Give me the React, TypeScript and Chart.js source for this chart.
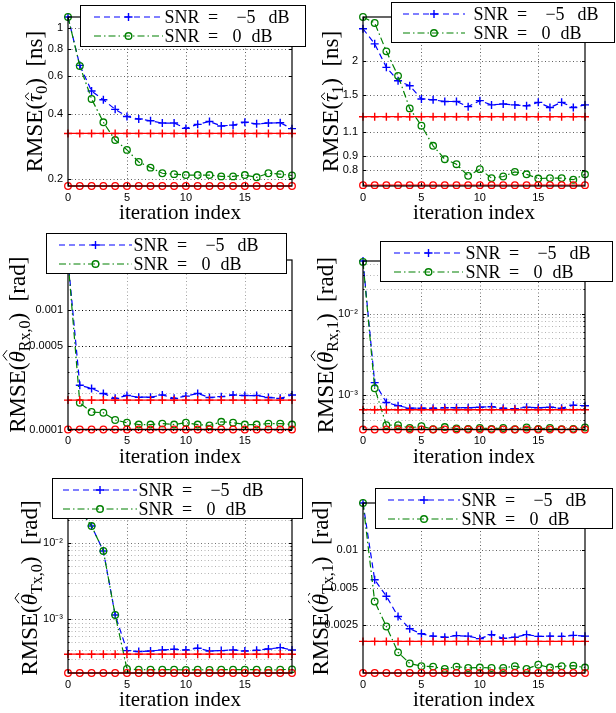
import React, { useEffect, useRef } from "react";
import { Chart, registerables } from "chart.js";

Chart.register(...registerables);

const ITERATIONS = [0, 1, 2, 3, 4, 5, 6, 7, 8, 9, 10, 11, 12, 13, 14, 15, 16, 17, 18, 19];
const X_TICKS = [0, 5, 10, 15];
const X_TITLE = "iteration index";
const LEGEND_LABELS = ["SNR = −5 dB", "SNR = 0 dB"];

// Panel 1: tau_0
const TAU0_M5 = [1.12, 0.67, 0.51, 0.465, 0.42, 0.389, 0.379, 0.372, 0.363, 0.363, 0.343, 0.358, 0.369, 0.352, 0.355, 0.366, 0.36, 0.363, 0.364, 0.342];
const TAU0_0 = [1.12, 0.666, 0.469, 0.366, 0.303, 0.273, 0.24, 0.226, 0.213, 0.211, 0.209, 0.209, 0.209, 0.206, 0.206, 0.209, 0.204, 0.213, 0.211, 0.208];
const TAU0_CRB_M5 = [0.325, 0.325, 0.325, 0.325, 0.325, 0.325, 0.325, 0.325, 0.325, 0.325, 0.325, 0.325, 0.325, 0.325, 0.325, 0.325, 0.325, 0.325, 0.325, 0.325];
const TAU0_CRB_0 = [0.186, 0.186, 0.186, 0.186, 0.186, 0.186, 0.186, 0.186, 0.186, 0.186, 0.186, 0.186, 0.186, 0.186, 0.186, 0.186, 0.186, 0.186, 0.186, 0.186];
const TAU0_TICKS = [0.2, 0.4, 0.6, 0.8, 1];
const TAU0_TICK_LABELS = ["0.2", "0.4", "0.6", "0.8", "1"];

// Panel 2: tau_1
const TAU1_M5 = [2.61, 2.3, 1.89, 1.69, 1.62, 1.45, 1.44, 1.42, 1.42, 1.36, 1.43, 1.38, 1.39, 1.38, 1.37, 1.41, 1.35, 1.41, 1.35, 1.38];
const TAU1_0 = [2.88, 2.74, 2.16, 1.76, 1.34, 1.16, 0.98, 0.876, 0.84, 0.762, 0.806, 0.748, 0.758, 0.788, 0.772, 0.745, 0.748, 0.748, 0.738, 0.772];
const TAU1_CRB_M5 = [1.25, 1.25, 1.25, 1.25, 1.25, 1.25, 1.25, 1.25, 1.25, 1.25, 1.25, 1.25, 1.25, 1.25, 1.25, 1.25, 1.25, 1.25, 1.25, 1.25];
const TAU1_CRB_0 = [0.705, 0.705, 0.705, 0.705, 0.705, 0.705, 0.705, 0.705, 0.705, 0.705, 0.705, 0.705, 0.705, 0.705, 0.705, 0.705, 0.705, 0.705, 0.705, 0.705];
const TAU1_TICKS = [0.8, 0.9, 1.1, 1.5, 2];
const TAU1_TICK_LABELS = ["0.8", "0.9", "1.1", "1.5", "2"];

// Panel 3: theta_Rx,0
const RX0_M5 = [2.6e-3, 2.34e-4, 2.2e-4, 2.0e-4, 1.82e-4, 1.92e-4, 1.86e-4, 1.86e-4, 1.94e-4, 1.82e-4, 1.9e-4, 2.0e-4, 1.85e-4, 1.88e-4, 1.94e-4, 1.92e-4, 1.92e-4, 1.85e-4, 1.82e-4, 1.94e-4];
const RX0_0 = [2.6e-3, 1.67e-4, 1.4e-4, 1.38e-4, 1.2e-4, 1.14e-4, 1.1e-4, 1.1e-4, 1.12e-4, 1.1e-4, 1.14e-4, 1.1e-4, 1.08e-4, 1.16e-4, 1.14e-4, 1.1e-4, 1.1e-4, 1.12e-4, 1.12e-4, 1.1e-4];
const RX0_CRB_M5 = [1.76e-4, 1.76e-4, 1.76e-4, 1.76e-4, 1.76e-4, 1.76e-4, 1.76e-4, 1.76e-4, 1.76e-4, 1.76e-4, 1.76e-4, 1.76e-4, 1.76e-4, 1.76e-4, 1.76e-4, 1.76e-4, 1.76e-4, 1.76e-4, 1.76e-4, 1.76e-4];
const RX0_CRB_0 = [1.0e-4, 1.0e-4, 1.0e-4, 1.0e-4, 1.0e-4, 1.0e-4, 1.0e-4, 1.0e-4, 1.0e-4, 1.0e-4, 1.0e-4, 1.0e-4, 1.0e-4, 1.0e-4, 1.0e-4, 1.0e-4, 1.0e-4, 1.0e-4, 1.0e-4, 1.0e-4];
const RX0_TICKS = [0.0001, 0.0005, 0.001];
const RX0_TICK_LABELS = ["0.0001", "0.0005", "0.001"];
const RX0_MINOR = [0.0002, 0.0003, 0.0004];

// Panel 4: theta_Rx,1
const RX1_M5 = [0.0441, 1.42e-3, 8.1e-4, 7.4e-4, 6.9e-4, 6.9e-4, 6.9e-4, 7.0e-4, 7.0e-4, 7.0e-4, 7.1e-4, 7.2e-4, 6.9e-4, 6.8e-4, 7.1e-4, 7.0e-4, 7.1e-4, 6.9e-4, 7.5e-4, 7.4e-4];
const RX1_0 = [0.043, 1.21e-3, 4.27e-4, 4.27e-4, 3.95e-4, 4.15e-4, 3.8e-4, 4.05e-4, 3.9e-4, 3.85e-4, 3.95e-4, 3.85e-4, 3.95e-4, 3.8e-4, 4.0e-4, 3.85e-4, 3.95e-4, 3.8e-4, 3.85e-4, 4.0e-4];
const RX1_CRB_M5 = [6.6e-4, 6.6e-4, 6.6e-4, 6.6e-4, 6.6e-4, 6.6e-4, 6.6e-4, 6.6e-4, 6.6e-4, 6.6e-4, 6.6e-4, 6.6e-4, 6.6e-4, 6.6e-4, 6.6e-4, 6.6e-4, 6.6e-4, 6.6e-4, 6.6e-4, 6.6e-4];
const RX1_CRB_0 = [3.78e-4, 3.78e-4, 3.78e-4, 3.78e-4, 3.78e-4, 3.78e-4, 3.78e-4, 3.78e-4, 3.78e-4, 3.78e-4, 3.78e-4, 3.78e-4, 3.78e-4, 3.78e-4, 3.78e-4, 3.78e-4, 3.78e-4, 3.78e-4, 3.78e-4, 3.78e-4];
const LOG_TICKS = [0.001, 0.01];
const LOG_TICK_LABELS = ["10⁻³", "10⁻²"];
const RX1_MINOR = [4e-4, 5e-4, 6e-4, 7e-4, 8e-4, 9e-4, 2e-3, 3e-3, 4e-3, 5e-3, 6e-3, 7e-3, 8e-3, 9e-3, 2e-2, 3e-2, 4e-2];

// Panel 5: theta_Tx,0
const TX0_M5 = [0.033, 0.027, 0.0165, 0.0078, 1.14e-3, 3.9e-4, 3.79e-4, 3.86e-4, 3.98e-4, 4.06e-4, 3.98e-4, 4.19e-4, 3.86e-4, 3.9e-4, 3.98e-4, 3.86e-4, 3.94e-4, 4.1e-4, 4.27e-4, 3.98e-4];
const TX0_0 = [0.033, 0.027, 0.0165, 0.0078, 1.14e-3, 2.25e-4, 2.2e-4, 2.2e-4, 2.2e-4, 2.2e-4, 2.18e-4, 2.2e-4, 2.18e-4, 2.2e-4, 2.2e-4, 2.2e-4, 2.2e-4, 2.18e-4, 2.2e-4, 2.22e-4];
const TX0_CRB_M5 = [3.5e-4, 3.5e-4, 3.5e-4, 3.5e-4, 3.5e-4, 3.5e-4, 3.5e-4, 3.5e-4, 3.5e-4, 3.5e-4, 3.5e-4, 3.5e-4, 3.5e-4, 3.5e-4, 3.5e-4, 3.5e-4, 3.5e-4, 3.5e-4, 3.5e-4, 3.5e-4];
const TX0_CRB_0 = [1.99e-4, 1.99e-4, 1.99e-4, 1.99e-4, 1.99e-4, 1.99e-4, 1.99e-4, 1.99e-4, 1.99e-4, 1.99e-4, 1.99e-4, 1.99e-4, 1.99e-4, 1.99e-4, 1.99e-4, 1.99e-4, 1.99e-4, 1.99e-4, 1.99e-4, 1.99e-4];
const TX0_MINOR = [3e-4, 4e-4, 5e-4, 6e-4, 7e-4, 8e-4, 9e-4, 2e-3, 3e-3, 4e-3, 5e-3, 6e-3, 7e-3, 8e-3, 9e-3, 2e-2, 3e-2];

// Panel 6: theta_Tx,1
const TX1_M5 = [0.0241, 5.8e-3, 4.28e-3, 2.94e-3, 2.34e-3, 2.13e-3, 2.04e-3, 2.0e-3, 2.06e-3, 2.04e-3, 1.95e-3, 2.1e-3, 1.96e-3, 2.0e-3, 2.1e-3, 2.03e-3, 2.04e-3, 2.03e-3, 2.07e-3, 2.04e-3];
const TX1_0 = [0.0241, 3.88e-3, 2.44e-3, 1.51e-3, 1.23e-3, 1.17e-3, 1.16e-3, 1.11e-3, 1.16e-3, 1.13e-3, 1.14e-3, 1.13e-3, 1.13e-3, 1.17e-3, 1.11e-3, 1.2e-3, 1.14e-3, 1.17e-3, 1.18e-3, 1.14e-3];
const TX1_CRB_M5 = [1.85e-3, 1.85e-3, 1.85e-3, 1.85e-3, 1.85e-3, 1.85e-3, 1.85e-3, 1.85e-3, 1.85e-3, 1.85e-3, 1.85e-3, 1.85e-3, 1.85e-3, 1.85e-3, 1.85e-3, 1.85e-3, 1.85e-3, 1.85e-3, 1.85e-3, 1.85e-3];
const TX1_CRB_0 = [1.03e-3, 1.03e-3, 1.03e-3, 1.03e-3, 1.03e-3, 1.03e-3, 1.03e-3, 1.03e-3, 1.03e-3, 1.03e-3, 1.03e-3, 1.03e-3, 1.03e-3, 1.03e-3, 1.03e-3, 1.03e-3, 1.03e-3, 1.03e-3, 1.03e-3, 1.03e-3];
const TX1_TICKS = [0.0025, 0.005, 0.01];
const TX1_TICK_LABELS = ["0.0025", "0.005", "0.01"];

const SERIF = '"Liberation Serif", "Times New Roman", serif';
const SANS = '"Liberation Sans", Arial, sans-serif';
const BLUE = "#0000ff";
const GREEN = "#008000";
const RED = "#ff0000";
const DASH_BLUE = [6, 4];
const DASH_GREEN = [7, 3, 1.5, 3];

type Rect = { x: number; y: number; w: number; h: number };
type Panel = {
  m5: number[]; s0: number[]; crbM5: number[]; crb0: number[];
  yTicks: number[]; yLabels: string[]; yMinor: number[];
  majorColor: string;
  canvas: Rect;
  plot: { L: number; R: number; T: number; B: number };
  legend: { x: number; y: number; w: number; h: number; lx1: number; lx2: number; tx: number };
  title: { sym: string; sub: string; unit: string; bx: number };
};

const PANELS: Panel[] = [
  {
    m5: TAU0_M5, s0: TAU0_0, crbM5: TAU0_CRB_M5, crb0: TAU0_CRB_0,
    yTicks: TAU0_TICKS, yLabels: TAU0_TICK_LABELS, yMinor: [], majorColor: "#606060",
    canvas: { x: 0, y: 0, w: 308, h: 226 }, plot: { L: 68, R: 292, T: 17, B: 186 },
    legend: { x: 80, y: 5, w: 226, h: 42, lx1: 94, lx2: 163, tx: 166 },
    title: { sym: "τ", sub: "0", unit: "ns", bx: 42 },
  },
  {
    m5: TAU1_M5, s0: TAU1_0, crbM5: TAU1_CRB_M5, crb0: TAU1_CRB_0,
    yTicks: TAU1_TICKS, yLabels: TAU1_TICK_LABELS, yMinor: [], majorColor: "#606060",
    canvas: { x: 308, y: 0, w: 308, h: 226 }, plot: { L: 363, R: 585, T: 17, B: 186 },
    legend: { x: 391, y: 2, w: 224, h: 41, lx1: 403, lx2: 465, tx: 475 },
    title: { sym: "τ", sub: "1", unit: "ns", bx: 338 },
  },
  {
    m5: RX0_M5, s0: RX0_0, crbM5: RX0_CRB_M5, crb0: RX0_CRB_0,
    yTicks: RX0_TICKS, yLabels: RX0_TICK_LABELS, yMinor: RX0_MINOR, majorColor: "#000000",
    canvas: { x: 0, y: 226, w: 308, h: 242 }, plot: { L: 68, R: 292, T: 260, B: 429.5 },
    legend: { x: 46, y: 233, w: 241, h: 41, lx1: 59, lx2: 132, tx: 135 },
    title: { sym: "θ", sub: "Rx,0", unit: "rad", bx: 25 },
  },
  {
    m5: RX1_M5, s0: RX1_0, crbM5: RX1_CRB_M5, crb0: RX1_CRB_0,
    yTicks: LOG_TICKS, yLabels: LOG_TICK_LABELS, yMinor: RX1_MINOR, majorColor: "#707070",
    canvas: { x: 308, y: 226, w: 308, h: 242 }, plot: { L: 363, R: 585, T: 261, B: 429.5 },
    legend: { x: 380, y: 241, w: 233, h: 41, lx1: 394, lx2: 463, tx: 467 },
    title: { sym: "θ", sub: "Rx,1", unit: "rad", bx: 333 },
  },
  {
    m5: TX0_M5, s0: TX0_0, crbM5: TX0_CRB_M5, crb0: TX0_CRB_0,
    yTicks: LOG_TICKS, yLabels: LOG_TICK_LABELS, yMinor: TX0_MINOR, majorColor: "#707070",
    canvas: { x: 0, y: 468, w: 308, h: 245 }, plot: { L: 68, R: 292, T: 503, B: 673 },
    legend: { x: 52, y: 478, w: 251, h: 41, lx1: 63, lx2: 137, tx: 140 },
    title: { sym: "θ", sub: "Tx,0", unit: "rad", bx: 37 },
  },
  {
    m5: TX1_M5, s0: TX1_0, crbM5: TX1_CRB_M5, crb0: TX1_CRB_0,
    yTicks: TX1_TICKS, yLabels: TX1_TICK_LABELS, yMinor: [], majorColor: "#606060",
    canvas: { x: 308, y: 468, w: 308, h: 245 }, plot: { L: 363, R: 585, T: 503, B: 673 },
    legend: { x: 375, y: 488, w: 238, h: 41, lx1: 388, lx2: 460, tx: 463 },
    title: { sym: "θ", sub: "Tx,1", unit: "rad", bx: 328 },
  },
];

// horizontal centres of the legend words, relative to the text start
const LEGEND_CENTRES = [
  [16, 47, 80, 113],
  [16, 47, 71, 96],
];

function hline(ctx: CanvasRenderingContext2D, x1: number, x2: number, y: number) {
  ctx.beginPath();
  ctx.moveTo(x1, y);
  ctx.lineTo(x2, y);
  ctx.stroke();
}
function vline(ctx: CanvasRenderingContext2D, x: number, y1: number, y2: number) {
  ctx.beginPath();
  ctx.moveTo(x, y1);
  ctx.lineTo(x, y2);
  ctx.stroke();
}

function drawMarker(ctx: CanvasRenderingContext2D, kind: string, x: number, y: number, color: string) {
  ctx.save();
  ctx.setLineDash([]);
  ctx.strokeStyle = color;
  ctx.lineWidth = 1.4;
  ctx.beginPath();
  if (kind === "plus") {
    ctx.moveTo(x - 4, y);
    ctx.lineTo(x + 4, y);
    ctx.moveTo(x, y - 4);
    ctx.lineTo(x, y + 4);
  } else {
    ctx.arc(x, y, 3.3, 0, Math.PI * 2);
  }
  ctx.stroke();
  ctx.restore();
}

function drawLegend(ctx: CanvasRenderingContext2D, p: Panel) {
  const ox = p.canvas.x;
  const oy = p.canvas.y;
  const lg = p.legend;
  const x = lg.x - ox;
  const y = lg.y - oy;
  ctx.save();
  ctx.setLineDash([]);
  ctx.fillStyle = "#ffffff";
  ctx.fillRect(x, y, lg.w, lg.h);
  ctx.strokeStyle = "#000";
  ctx.lineWidth = 1;
  ctx.strokeRect(x + 0.5, y + 0.5, lg.w - 1, lg.h - 1);
  const rows = [
    { ry: y + 12, color: BLUE, dash: DASH_BLUE, marker: "plus" },
    { ry: y + 31, color: GREEN, dash: DASH_GREEN, marker: "circle" },
  ];
  rows.forEach((r, i) => {
    const x1 = lg.lx1 - ox;
    const x2 = lg.lx2 - ox;
    ctx.strokeStyle = r.color;
    ctx.lineWidth = 1.2;
    ctx.setLineDash(r.dash);
    hline(ctx, x1, x2, r.ry);
    drawMarker(ctx, r.marker, (x1 + x2) / 2, r.ry, r.color);
    ctx.fillStyle = "#000";
    ctx.font = `18px ${SERIF}`;
    ctx.textBaseline = "alphabetic";
    ctx.textAlign = "center";
    const tokens = LEGEND_LABELS[i].split(" ");
    tokens.forEach((tok, k) => {
      ctx.fillText(tok, lg.tx - ox + LEGEND_CENTRES[i][k], r.ry + 6);
    });
  });
  ctx.restore();
}

function drawYTitle(ctx: CanvasRenderingContext2D, p: Panel, cy: number) {
  const t = p.title;
  const bx = t.bx - p.canvas.x;
  const big = `23px ${SERIF}`;
  const ital = `italic 23px ${SERIF}`;
  const small = `16px ${SERIF}`;
  const parts = [
    { s: "RMSE(", f: big, dy: 0, hat: false },
    { s: t.sym, f: ital, dy: 0, hat: true },
    { s: t.sub, f: small, dy: 5, hat: false },
    { s: ")", f: big, dy: 0, hat: false },
    { s: "\u2002[" + t.unit + "]", f: big, dy: 0, hat: false },
  ];
  ctx.save();
  ctx.translate(bx, cy);
  ctx.rotate(-Math.PI / 2);
  ctx.textBaseline = "alphabetic";
  ctx.textAlign = "left";
  ctx.fillStyle = "#000";
  const widths = parts.map((pt) => {
    ctx.font = pt.f;
    return ctx.measureText(pt.s).width;
  });
  const total = widths.reduce((a, b) => a + b, 0);
  let x = -total / 2;
  parts.forEach((pt, i) => {
    ctx.font = pt.f;
    ctx.fillText(pt.s, x, pt.dy);
    if (pt.hat) {
      const h = t.sym === "τ" ? 13 : 18;
      ctx.strokeStyle = "#000";
      ctx.lineWidth = 1;
      ctx.beginPath();
      ctx.moveTo(x + 2, -h);
      ctx.lineTo(x + widths[i] / 2 + 1.5, -h - 4);
      ctx.lineTo(x + widths[i] + 1, -h);
      ctx.stroke();
    }
    x += widths[i];
  });
  ctx.restore();
}

function PanelChart({ p }: { p: Panel }) {
  const ref = useRef<HTMLCanvasElement>(null);
  useEffect(() => {
    const canvas = ref.current;
    if (!canvas) return;
    const c = p.canvas;
    const pl = p.plot;
    const all = [...p.m5, ...p.s0, ...p.crbM5, ...p.crb0];
    const yMin = Math.min(...all);
    const yMax = Math.max(...all);
    const toXY = (vals: number[]) => ITERATIONS.map((it, i) => ({ x: it, y: vals[i] }));

    const decor = {
      id: "decor",
      beforeDatasetsDraw(chart: any) {
        const { ctx, chartArea: a, scales } = chart;
        const xs = scales.x;
        const ys = scales.y;
        ctx.save();
        ctx.lineWidth = 1;
        ctx.setLineDash([1, 2.5]);
        ctx.strokeStyle = "#b4b4b4";
        p.yMinor.forEach((v) => {
          const py = Math.round(ys.getPixelForValue(v)) + 0.5;
          hline(ctx, a.left, a.right, py);
        });
        ctx.strokeStyle = p.majorColor === "#000000" ? "#a0a0a0" : p.majorColor;
        X_TICKS.forEach((v) => {
          if (v === 0) return;
          const px = Math.round(xs.getPixelForValue(v)) + 0.5;
          vline(ctx, px, a.top, a.bottom);
        });
        ctx.strokeStyle = p.majorColor;
        p.yTicks.forEach((v) => {
          const py = Math.round(ys.getPixelForValue(v)) + 0.5;
          hline(ctx, a.left, a.right, py);
        });
        ctx.restore();
      },
      afterDatasetsDraw(chart: any) {
        const { ctx, chartArea: a, scales } = chart;
        const xs = scales.x;
        const ys = scales.y;
        ctx.save();
        ctx.setLineDash([]);
        ctx.strokeStyle = "#000";
        ctx.lineWidth = 1.2;
        ctx.strokeRect(a.left, a.top, a.right - a.left, a.bottom - a.top);
        ctx.lineWidth = 1;
        X_TICKS.forEach((v) => {
          const px = Math.round(xs.getPixelForValue(v)) + 0.5;
          vline(ctx, px, a.bottom, a.bottom - 3);
          vline(ctx, px, a.top, a.top + 3);
        });
        p.yTicks.forEach((v) => {
          const py = Math.round(ys.getPixelForValue(v)) + 0.5;
          hline(ctx, a.left, a.left + 3, py);
          hline(ctx, a.right, a.right - 3, py);
        });
        p.yMinor.forEach((v) => {
          const py = Math.round(ys.getPixelForValue(v)) + 0.5;
          hline(ctx, a.left, a.left + 1.5, py);
          hline(ctx, a.right, a.right - 1.5, py);
        });
        ctx.fillStyle = "#000";
        ctx.font = `21px ${SERIF}`;
        ctx.textAlign = "center";
        ctx.textBaseline = "alphabetic";
        ctx.fillText(X_TITLE, (a.left + a.right) / 2, a.bottom + 33);
        ctx.restore();
        drawYTitle(ctx, p, (a.top + a.bottom) / 2);
        drawLegend(ctx, p);
      },
    };

    const chart = new Chart(canvas, {
      type: "line",
      data: {
        datasets: [
          {
            label: LEGEND_LABELS[0], data: toXY(p.m5), borderColor: BLUE, borderWidth: 1.2, borderDash: DASH_BLUE,
            pointStyle: "cross", pointRadius: 4, pointBorderColor: BLUE, pointBorderWidth: 1.4,
            backgroundColor: "rgba(0,0,0,0)", fill: false, clip: false, order: 3, tension: 0,
          },
          {
            label: LEGEND_LABELS[1], data: toXY(p.s0), borderColor: GREEN, borderWidth: 1.2, borderDash: DASH_GREEN,
            pointStyle: "circle", pointRadius: 3.3, pointBorderColor: GREEN, pointBackgroundColor: "rgba(0,0,0,0)",
            pointBorderWidth: 1.3, backgroundColor: "rgba(0,0,0,0)", fill: false, clip: false, order: 2, tension: 0,
          },
          {
            label: "CRB, SNR = −5 dB", data: toXY(p.crbM5), borderColor: RED, borderWidth: 1.3,
            pointStyle: "cross", pointRadius: 4, pointBorderColor: RED, pointBorderWidth: 1.4,
            backgroundColor: "rgba(0,0,0,0)", fill: false, clip: false, order: 1, tension: 0,
          },
          {
            label: "CRB, SNR = 0 dB", data: toXY(p.crb0), borderColor: RED, borderWidth: 1.3,
            pointStyle: "circle", pointRadius: 3.3, pointBorderColor: RED, pointBackgroundColor: "rgba(0,0,0,0)",
            pointBorderWidth: 1.3, backgroundColor: "rgba(0,0,0,0)", fill: false, clip: false, order: 0, tension: 0,
          },
        ],
      } as any,
      options: {
        animation: false,
        responsive: false,
        events: [],
        layout: { padding: { left: 0, top: pl.T - c.y, right: c.x + c.w - pl.R, bottom: 0 } },
        plugins: { legend: { display: false }, tooltip: { enabled: false } },
        scales: {
          x: {
            type: "linear", min: 0, max: 19, position: "bottom",
            grid: { display: false, drawTicks: false }, border: { display: false },
            ticks: {
              autoSkip: false, maxRotation: 0, minRotation: 0, padding: 5, color: "#000",
              font: { family: SANS, size: 11 }, callback: (v: any) => String(v),
            },
            afterBuildTicks: (s: any) => { s.ticks = X_TICKS.map((v) => ({ value: v })); },
            afterFit: (s: any) => { s.height = c.y + c.h - pl.B; },
          },
          y: {
            type: "logarithmic", min: yMin, max: yMax, position: "left",
            grid: { display: false, drawTicks: false }, border: { display: false },
            ticks: {
              autoSkip: false, padding: 5, color: "#000", font: { family: SANS, size: 11 },
              callback: (_v: any, i: number) => p.yLabels[i],
            },
            afterBuildTicks: (s: any) => { s.ticks = p.yTicks.map((v) => ({ value: v })); },
            afterFit: (s: any) => { s.width = pl.L - c.x; },
          },
        },
      } as any,
      plugins: [decor],
    });
    return () => chart.destroy();
  }, [p]);
  return (
    <canvas
      ref={ref}
      width={p.canvas.w}
      height={p.canvas.h}
      style={{ position: "absolute", left: p.canvas.x, top: p.canvas.y, width: p.canvas.w, height: p.canvas.h }}
    />
  );
}

export default function App() {
  return (
    <div style={{ position: "absolute", left: 0, top: 0, width: 616, height: 713, background: "#fff", overflow: "hidden" }}>
      {PANELS.map((p, i) => (
        <PanelChart key={i} p={p} />
      ))}
    </div>
  );
}
